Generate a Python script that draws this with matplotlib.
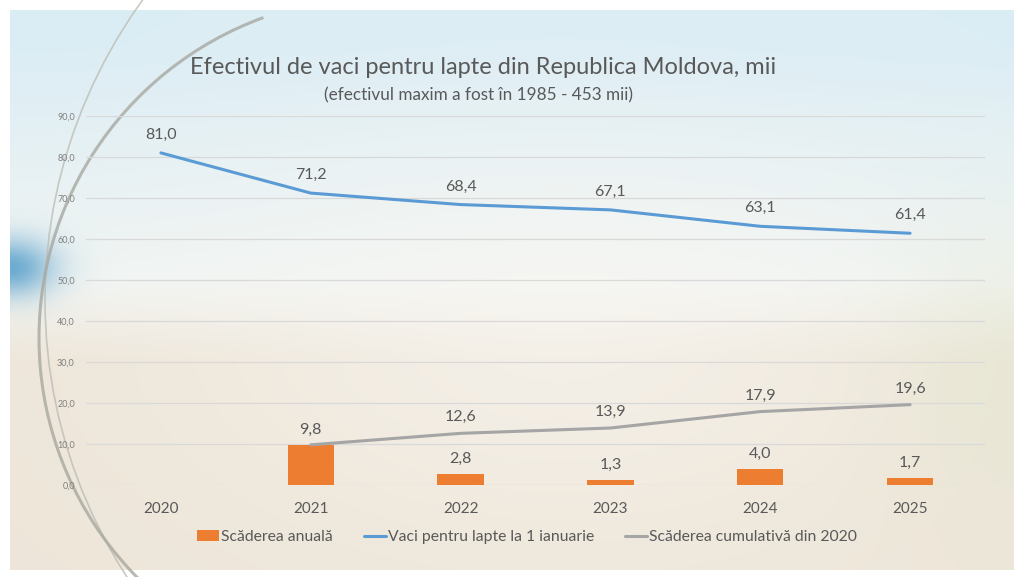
import numpy as np
import matplotlib.pyplot as plt
from matplotlib.patches import Arc

years = ['2020', '2021', '2022', '2023', '2024', '2025']
vaci = [81.0, 71.2, 68.4, 67.1, 63.1, 61.4]
scaderea_anuala = [None, 9.8, 2.8, 1.3, 4.0, 1.7]
scaderea_cumulativa = [None, 9.8, 12.6, 13.9, 17.9, 19.6]

title = 'Efectivul de vaci pentru lapte din Republica Moldova, mii'
subtitle = '(efectivul maxim a fost în 1985 - 453 mii)'

plt.rcParams['font.family'] = ['Lato', 'DejaVu Sans']

W, H = 1022, 577
fig = plt.figure(figsize=(W / 100, H / 100), dpi=100)
fig.patch.set_facecolor('white')

# decorative background
bg = fig.add_axes([0, 0, 1, 1])
bg.set_xlim(0, W)
bg.set_ylim(H, 0)
bg.axis('off')
yy, xx = np.mgrid[0:H, 0:W].astype(float)
top = np.array([0.86, 0.93, 0.96])
mid = np.array([0.95, 0.96, 0.95])
low = np.array([0.93, 0.90, 0.85])
t = np.clip((yy - 40) / 260, 0, 1)[..., None]
img = top * (1 - t) + mid * t
t2 = np.clip((yy - 280) / 80, 0, 1)[..., None]
img = img * (1 - t2) + low * t2
glow = np.exp(-(((xx - 560) / 380) ** 2 + ((yy - 330) / 220) ** 2))[..., None]
img = img * (1 - 0.55 * glow) + np.array([0.98, 0.97, 0.95]) * 0.55 * glow
blue = np.exp(-(((xx - 0) / 45) ** 2 + ((yy - 265) / 30) ** 2))[..., None]
img = img * (1 - 0.8 * blue) + np.array([0.30, 0.60, 0.78]) * 0.8 * blue
green = np.exp(-(((xx - 1022) / 120) ** 2 + ((yy - 380) / 150) ** 2))[..., None]
img = img * (1 - 0.4 * green) + np.array([0.88, 0.90, 0.80]) * 0.4 * green
bg.imshow(img, extent=(10, W - 8, H - 7, 10), aspect='auto', zorder=0)
bg.add_patch(Arc((600, 300), 1110, 1060, theta1=90, theta2=270,
                 color='#bdbdb4', lw=1.2, alpha=0.8, zorder=1))
bg.add_patch(Arc((380, 338), 682, 682, theta1=100, theta2=250,
                 color='#a8a8a0', lw=2.2, alpha=0.8, zorder=1))
bg.add_patch(Arc((700, 560), 1500, 620, theta1=100, theta2=175,
                 color='white', lw=1.5, alpha=0.7, zorder=1))

ax = fig.add_axes([86 / W, 92 / H, 899 / W, 369 / H])
ax.patch.set_alpha(0)
x = np.arange(len(years))

bx = [i for i, v in enumerate(scaderea_anuala) if v is not None]
bv = [v for v in scaderea_anuala if v is not None]
cv = [v for v in scaderea_cumulativa if v is not None]

b = ax.bar(bx, bv, width=0.31, color='#ed7d31', label='Scăderea anuală', zorder=3)
l1, = ax.plot(x, vaci, color='#5b9bd5', lw=2.2, label='Vaci pentru lapte la 1 ianuarie',
              zorder=4, solid_capstyle='round')
l2, = ax.plot(bx, cv, color='#a5a5a5', lw=2.2, label='Scăderea cumulativă din 2020',
              zorder=4, solid_capstyle='round')

def fmt(v):
    return f'{v:.1f}'.replace('.', ',')

for i, v in enumerate(vaci):
    ax.annotate(fmt(v), (i, v), xytext=(0, 18), textcoords='offset pixels',
                ha='center', va='center', fontsize=11.5, color='#595959')
# first cumulative point coincides with the first bar, label it only once
for i, v in zip(bx[1:], cv[1:]):
    ax.annotate(fmt(v), (i, v), xytext=(0, 16), textcoords='offset pixels',
                ha='center', va='center', fontsize=11.5, color='#595959')
for i, v in zip(bx, bv):
    ax.annotate(fmt(v), (i, v), xytext=(0, 15), textcoords='offset pixels',
                ha='center', va='center', fontsize=11.5, color='#595959')

ax.set_xlim(-0.5, 5.5)
ax.set_ylim(0, 90)
ax.set_yticks(np.arange(0, 91, 10))
ax.set_yticklabels([fmt(v) for v in np.arange(0, 91, 10)], fontsize=6.5, color='#7f7f7f')
ax.set_xticks(x)
ax.set_xticklabels(years, fontsize=11, color='#595959')
ax.tick_params(length=0)
ax.tick_params(axis='x', pad=12)
ax.tick_params(axis='y', pad=8)
ax.grid(axis='y', color='#d9d9d9', lw=0.9, zorder=0)
for s in ax.spines.values():
    s.set_visible(False)

fig.text(483 / W, 1 - 68 / H, title, ha='center', va='center', fontsize=17, color='#595959')
fig.text(478 / W, 1 - 95 / H, subtitle, ha='center', va='center', fontsize=12.3, color='#595959')

ax.legend([b, l1, l2], [b.get_label(), l1.get_label(), l2.get_label()],
          loc='center', bbox_to_anchor=(527 / W, 1 - 537 / H), bbox_transform=fig.transFigure,
          ncol=3, frameon=False, fontsize=11.3, labelcolor='#595959', handlelength=1.4,
          handletextpad=0.1, columnspacing=2.0)

plt.savefig('out.png', dpi=100)
